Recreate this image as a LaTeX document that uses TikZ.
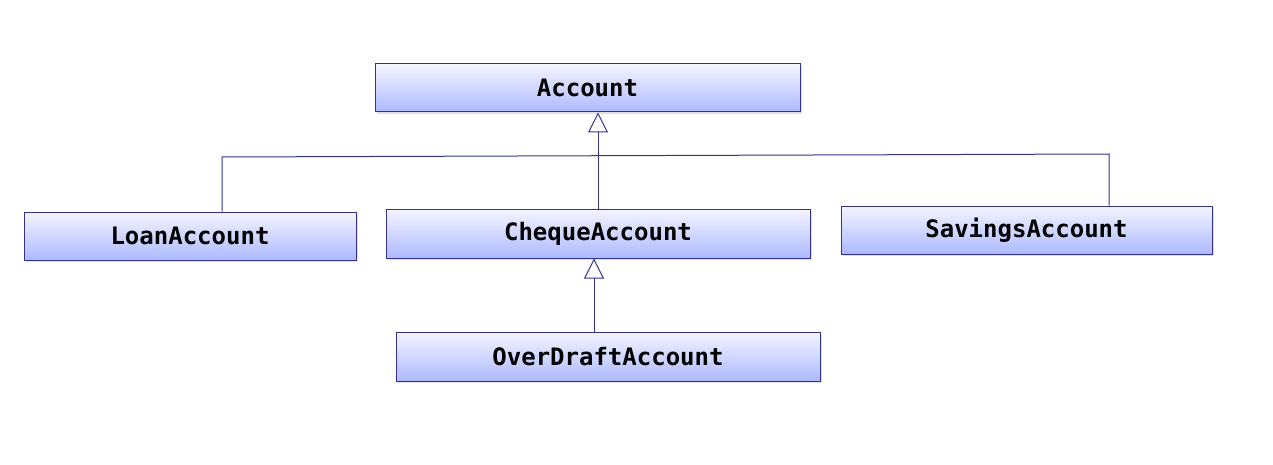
\documentclass[tikz,border=0pt]{standalone}
\usepackage{fontspec}
\setmonofont{DejaVu Sans Mono}
\usetikzlibrary{arrows.meta,shadows}
\begin{document}
\begin{tikzpicture}[x=1pt,y=-1pt,
  cls/.style={draw=blue!45!black!80, line width=1pt, top color=blue!4, bottom color=blue!30!cyan!10!white!75!blue,
    drop shadow={shadow xshift=2pt,shadow yshift=-2pt,opacity=0.25},
    font=\ttfamily\bfseries\fontsize{24}{28}\selectfont, inner sep=0pt},
  conn/.style={draw=blue!45!black!80, line width=1pt},
  inh/.style={conn, -{Triangle[open,length=20pt,width=20pt,fill=white]}}]
\useasboundingbox (0,0) rectangle (1273,465);
\node[cls, minimum width=425, minimum height=48] (acc) at (587.5,88) {Account};
\node[cls, minimum width=332, minimum height=48] (loan) at (190,236) {LoanAccount};
\node[cls, minimum width=424, minimum height=49] (cheq) at (598,233.5) {ChequeAccount};
\node[cls, minimum width=371, minimum height=48] (sav) at (1026.5,230) {SavingsAccount};
\node[cls, minimum width=424, minimum height=49] (over) at (608,356.5) {OverDraftAccount};
\coordinate (jl) at (222,157);
\coordinate (jr) at (1109,154);
\coordinate (jm) at (598,155.7);
\draw[conn] (loan.north -| jl) -- (jl) -- (jr) -- (sav.north -| jr);
\draw[inh] (cheq.north) -- (acc.south -| cheq.north);
\draw[inh] (over.north -| 594,0) -- (cheq.south -| 594,0);
\end{tikzpicture}
\end{document}
